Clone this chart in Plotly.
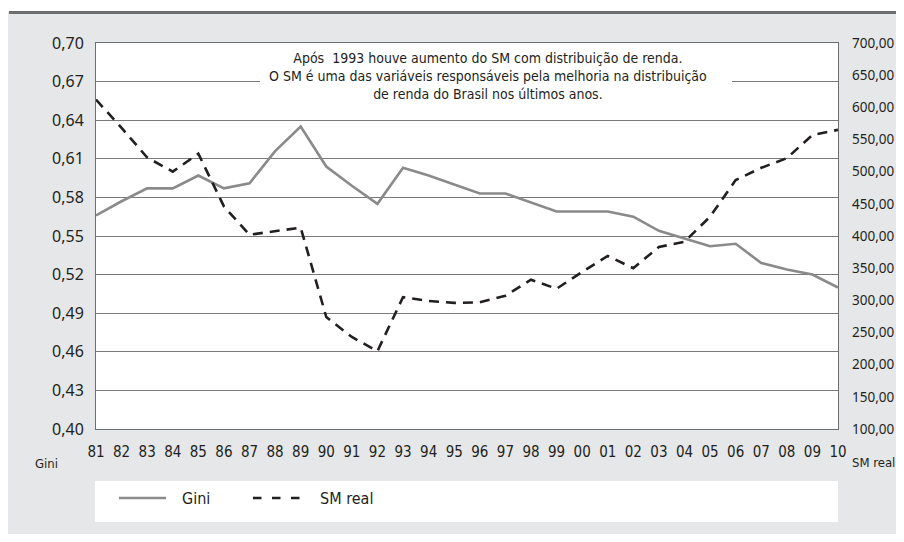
import plotly.graph_objects as go

years = ["81", "82", "83", "84", "85", "86", "87", "88", "89", "90",
         "91", "92", "93", "94", "95", "96", "97", "98", "99", "00",
         "01", "02", "03", "04", "05", "06", "07", "08", "09", "10"]
gini = [0.566, 0.577, 0.587, 0.587, 0.597, 0.587, 0.591, 0.616, 0.635, 0.604,
        0.589, 0.575, 0.603, 0.597, 0.590, 0.583, 0.583, 0.576, 0.569, 0.569,
        0.569, 0.565, 0.554, 0.548, 0.542, 0.544, 0.529, 0.524, 0.520, 0.510]
sm_real = [612, 568, 522, 500, 528, 446, 402, 407, 413, 274,
           243, 221, 305, 299, 296, 297, 307, 332, 318, 344,
           369, 350, 383, 391, 430, 487, 506, 521, 557, 565]
gini_ticks = [0.40, 0.43, 0.46, 0.49, 0.52, 0.55, 0.58, 0.61, 0.64, 0.67, 0.70]
sm_ticks = [100, 150, 200, 250, 300, 350, 400, 450, 500, 550, 600, 650, 700]

# the page body has an 8px margin; size the figure so nothing overflows the window
OFF = 8
W, H = 904 - 2 * OFF, 542 - 2 * OFF
# plot area in page pixels
L, R, T, B = 96, 838, 43, 429


def px(x):
    return (x - L) / (R - L)


def py(y):
    return (B - y) / (B - T)


NARROW = "DejaVu Sans Condensed, Liberation Sans Narrow, sans-serif"
DARK = "#231f20"

fig = go.Figure()
fig.add_trace(go.Scatter(x=years, y=gini, mode="lines", name="Gini",
                         line=dict(color="#8a8a8a", width=2.6), yaxis="y"))
fig.add_trace(go.Scatter(x=years, y=sm_real, mode="lines", name="SM real",
                         line=dict(color=DARK, width=2.6, dash="10px,7px"),
                         yaxis="y2"))

cat_w = (R - L) / 29
shapes = [
    # white strip and dark top bar
    dict(type="rect", xref="paper", yref="paper", x0=px(0), x1=px(904), y0=py(11), y1=py(0),
         fillcolor="white", line_width=0, layer="above"),
    dict(type="rect", xref="paper", yref="paper", x0=px(9), x1=px(904), y0=py(14), y1=py(11),
         fillcolor="#6d6e70", line_width=0, layer="above"),
    # white box behind the note
    dict(type="rect", xref="x", yref="y", x0=(260 - L) / cat_w, x1=(732 - L) / cat_w,
         y0=0.651, y1=0.699, fillcolor="white", line_width=0, layer="between"),
    # legend box
    dict(type="rect", xref="paper", yref="paper", x0=px(95), x1=px(838), y0=py(522), y1=py(481),
         fillcolor="white", line_width=0, layer="below"),
    dict(type="line", xref="paper", yref="paper", x0=px(119), x1=px(166), y0=py(498), y1=py(498),
         line=dict(color="#8a8a8a", width=2.6)),
    dict(type="line", xref="paper", yref="paper", x0=px(253), x1=px(301), y0=py(498), y1=py(498),
         line=dict(color=DARK, width=2.6, dash="8.5px,10.5px")),
]

annotations = [
    dict(xref="paper", yref="paper", x=px(488), y=py(76), showarrow=False,
         xanchor="center", yanchor="middle",
         text="Após\u00a0 1993 houve aumento do SM com distribuição de renda.<br>"
              "O SM é uma das variáveis responsáveis pela melhoria na distribuição<br>"
              "de renda do Brasil nos últimos anos.",
         font=dict(family=NARROW, size=14, color=DARK), align="center"),
    dict(xref="paper", yref="paper", x=px(46), y=py(463), showarrow=False, text="Gini",
         xanchor="center", yanchor="middle",
         font=dict(family=NARROW, size=13, color=DARK)),
    dict(xref="paper", yref="paper", x=px(873), y=py(462), showarrow=False, text="SM real",
         xanchor="center", yanchor="middle",
         font=dict(family=NARROW, size=13, color=DARK)),
    dict(xref="paper", yref="paper", x=px(180), y=py(498), showarrow=False, text="Gini",
         xanchor="left", yanchor="middle", font=dict(family=NARROW, size=16, color=DARK)),
    dict(xref="paper", yref="paper", x=px(318), y=py(498), showarrow=False, text="SM real",
         xanchor="left", yanchor="middle", font=dict(family=NARROW, size=16, color=DARK)),
]

fig.update_layout(
    width=W, height=H, autosize=False,
    margin=dict(l=L - OFF, r=W - (R - OFF), t=T - OFF, b=H - (B - OFF), pad=0,
                autoexpand=False),
    paper_bgcolor="#e6e7e8", plot_bgcolor="white",
    separators=",.",
    showlegend=False,
    shapes=shapes, annotations=annotations,
    xaxis=dict(type="category", range=[0, 29], showgrid=False, zeroline=False,
               showline=True, mirror=True, linecolor="#6d6e70", linewidth=1,
               ticks="", ticklabelstandoff=9, automargin=False,
               tickfont=dict(family=NARROW, size=15, color=DARK)),
    yaxis=dict(range=[0.40, 0.70], tickvals=gini_ticks, tickformat=".2f",
               showgrid=True, gridcolor="#7a7a7a", gridwidth=1, zeroline=False,
               showline=True, mirror=True, linecolor="#6d6e70", linewidth=1,
               ticks="", ticklabelstandoff=8, automargin=False,
               tickfont=dict(family="Noto Sans, sans-serif", size=16, color=DARK)),
    yaxis2=dict(range=[100, 700], tickvals=sm_ticks, tickformat=".2f",
                overlaying="y", side="right", showgrid=False, zeroline=False,
                showline=False, ticks="", ticklabelstandoff=13, automargin=False,
                tickfont=dict(family="Noto Sans, sans-serif", size=13.5, color=DARK)),
)

fig.write_html("out.html")
